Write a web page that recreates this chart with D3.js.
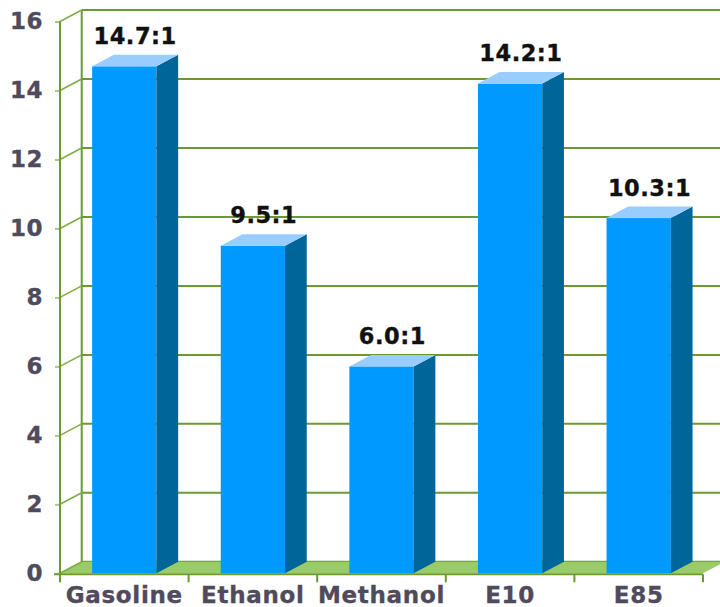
<!DOCTYPE html>
<html>
<head>
<meta charset="utf-8">
<script src="https://cdn.jsdelivr.net/npm/d3@7"></script>
<style>
  html, body { margin: 0; padding: 0; background: #ffffff; }
  svg { display: block; }
  text { font-family: "DejaVu Sans", Verdana, sans-serif; font-weight: bold; }
</style>
</head>
<body>
<svg id="chart" width="720" height="607"></svg>
<script>
const categories = ["Gasoline", "Ethanol", "Methanol", "E10", "E85"];
const values = [14.7, 9.5, 6.0, 14.2, 10.3];
const valueLabels = ["14.7:1", "9.5:1", "6.0:1", "14.2:1", "10.3:1"];
const yTicks = [0, 2, 4, 6, 8, 10, 12, 14, 16];

const W = 720, H = 607;
const left = 60, right = 703;
const depthX = 21.7, depthY = 11.5;

const svg = d3.select("#chart");

const y = d3.scaleLinear().domain([0, 16]).range([573.3, 21.5]);
const xBand = d3.scaleBand().domain(categories).range([left, right]).paddingInner(0.5).paddingOuter(0.25);
const xCat = d3.scaleBand().domain(categories).range([left, right]).padding(0);

const gridColor = "#6b9a33";
const floorColor = "#99cc66";
const labelColor = "#4f4a5c";

// back wall grid lines
svg.append("g").selectAll("line").data(yTicks).join("line")
  .attr("x1", left + depthX).attr("x2", right + depthX + 30)
  .attr("y1", d => y(d) - depthY).attr("y2", d => y(d) - depthY)
  .attr("stroke", gridColor).attr("stroke-width", 2);

// back wall left edge
svg.append("line")
  .attr("x1", left + depthX).attr("x2", left + depthX)
  .attr("y1", y(16) - depthY).attr("y2", y(0) - depthY)
  .attr("stroke", gridColor).attr("stroke-width", 2);

// floor
svg.append("path")
  .attr("d", `M${left},${y(0)} L${left + depthX},${y(0) - depthY} L${right + depthX},${y(0) - depthY} L${right},${y(0)} Z`)
  .attr("fill", floorColor);

// side diagonals
svg.append("g").selectAll("line").data(yTicks).join("line")
  .attr("x1", left).attr("x2", left + depthX)
  .attr("y1", d => y(d)).attr("y2", d => y(d) - depthY)
  .attr("stroke", "#7fae45").attr("stroke-width", 1.6);

// front y axis
const yAxis = d3.axisLeft(y).tickValues(yTicks).tickSize(5).tickPadding(12).tickFormat(d3.format("d"));
const gy = svg.append("g").attr("transform", `translate(${left},0)`).call(yAxis);
gy.select(".domain").remove();
gy.selectAll(".tick line").attr("stroke", "#a8c878").attr("stroke-width", 2);
gy.selectAll(".tick text")
  .attr("fill", labelColor)
  .attr("stroke", labelColor).attr("stroke-width", 0.35)
  .style("font-size", "23px")
  .style("letter-spacing", "0.5px")
  .style("font-family", "'DejaVu Sans', Verdana, sans-serif")
  .style("font-weight", "bold");
svg.append("line")
  .attr("x1", left).attr("x2", left)
  .attr("y1", y(16)).attr("y2", y(0) + 9)
  .attr("stroke", gridColor).attr("stroke-width", 2);

// x axis line
svg.append("line")
  .attr("x1", left - 6).attr("x2", right)
  .attr("y1", y(0) + 1).attr("y2", y(0) + 1)
  .attr("stroke", gridColor).attr("stroke-width", 2);

// category boundary ticks
const bounds = categories.map(c => xCat(c)).concat([xCat(categories[categories.length - 1]) + xCat.bandwidth()]);
svg.append("g").selectAll("line").data(bounds.slice(1)).join("line")
  .attr("x1", d => d).attr("x2", d => d)
  .attr("y1", y(0) + 1).attr("y2", y(0) + 9)
  .attr("stroke", gridColor).attr("stroke-width", 2);

// bars
const data = categories.map((c, i) => ({ c, v: values[i], label: valueLabels[i] }));
const bars = svg.append("g").selectAll("g").data(data).join("g");

bars.append("rect")
  .attr("x", d => xBand(d.c))
  .attr("y", d => y(d.v))
  .attr("width", xBand.bandwidth())
  .attr("height", d => y(0) - y(d.v))
  .attr("fill", "#0099ff");

bars.append("path")
  .attr("d", d => {
    const x1 = xBand(d.c) + xBand.bandwidth();
    return `M${x1},${y(0)} L${x1 + depthX},${y(0) - depthY} L${x1 + depthX},${y(d.v) - depthY} L${x1},${y(d.v)} Z`;
  })
  .attr("fill", "#006699");

bars.append("path")
  .attr("d", d => {
    const x0 = xBand(d.c), x1 = x0 + xBand.bandwidth();
    return `M${x0},${y(d.v)} L${x0 + depthX},${y(d.v) - depthY} L${x1 + depthX},${y(d.v) - depthY} L${x1},${y(d.v)} Z`;
  })
  .attr("fill", "#99ccff");

bars.append("text")
  .attr("x", d => xBand(d.c) + xBand.bandwidth() / 2 + depthX / 2)
  .attr("y", d => y(d.v) - depthY - 11)
  .attr("text-anchor", "middle")
  .attr("fill", "#111111")
  .attr("stroke", "#111111").attr("stroke-width", 0.35)
  .style("font-size", "22.5px")
  .style("letter-spacing", "0.5px")
  .text(d => d.label);

// category labels
svg.append("g").selectAll("text").data(categories).join("text")
  .attr("x", d => xCat(d) + xCat.bandwidth() / 2)
  .attr("y", 603)
  .attr("text-anchor", "middle")
  .attr("fill", labelColor)
  .attr("stroke", labelColor).attr("stroke-width", 0.35)
  .style("font-size", "23px")
  .style("letter-spacing", "0.7px")
  .text(d => d);
</script>
</body>
</html>
